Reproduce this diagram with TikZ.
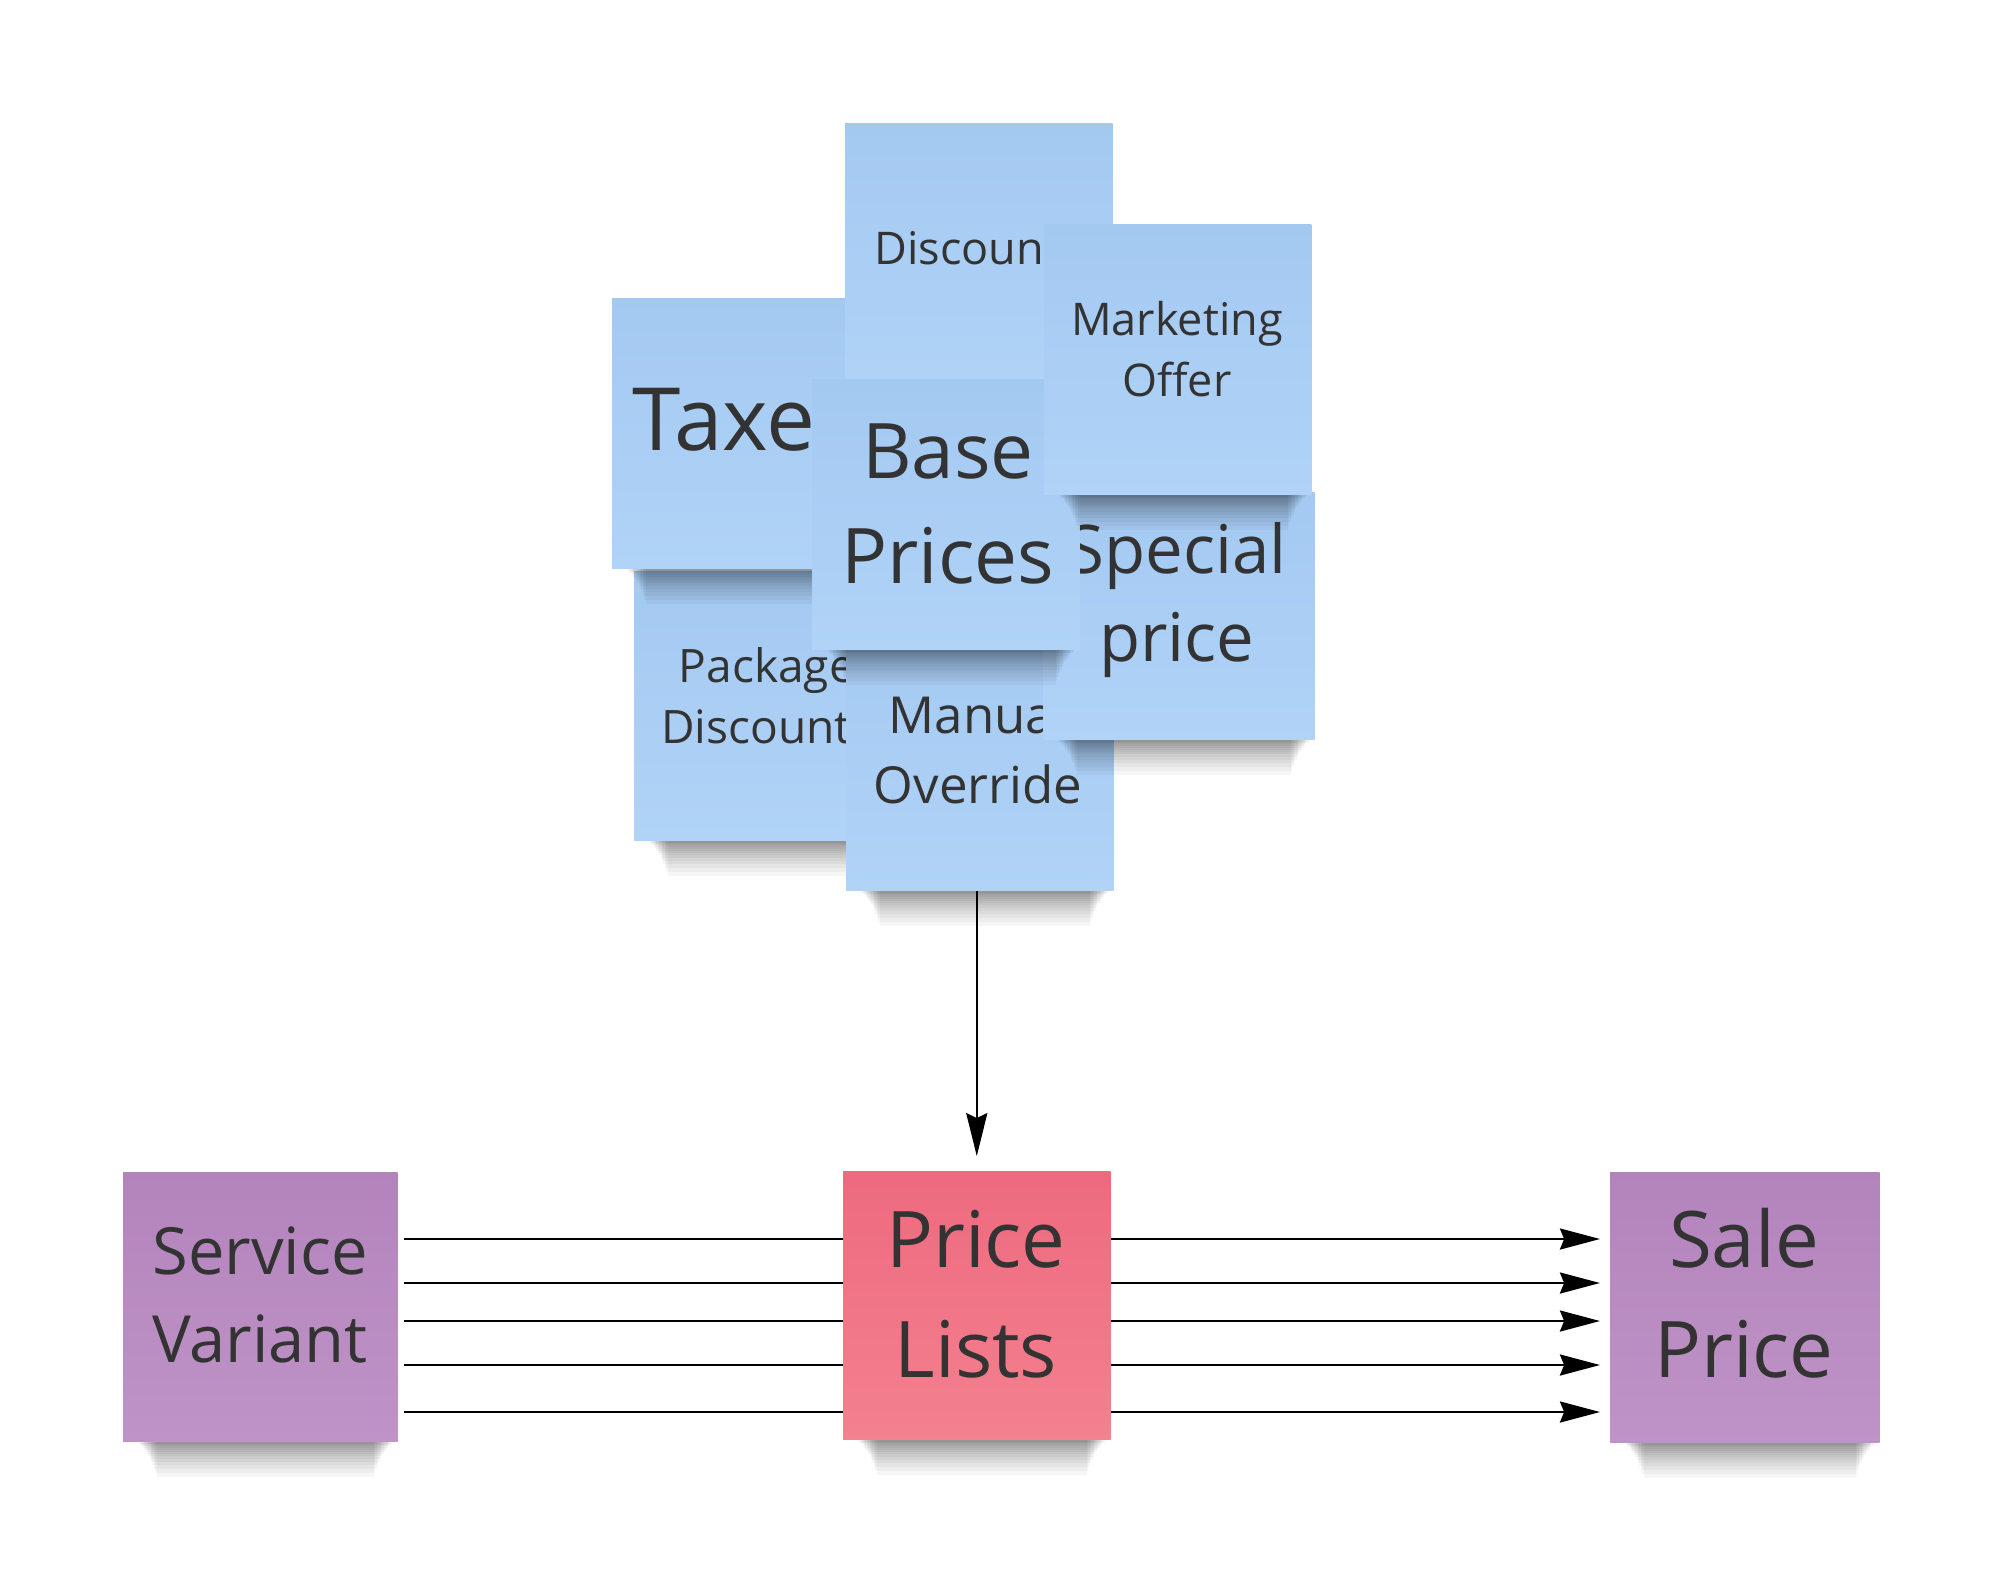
\documentclass[tikz,border=0pt]{standalone}
\usepackage{fontspec}
\setmainfont{Open Sans}
\usetikzlibrary{arrows.meta,calc}
\definecolor{txt}{HTML}{333333}
\definecolor{blueT}{HTML}{A4C9F1}
\definecolor{blueB}{HTML}{B0D3F7}
\definecolor{purT}{HTML}{B384BC}
\definecolor{purB}{HTML}{BF93C7}
\definecolor{redT}{HTML}{EE6A7E}
\definecolor{redB}{HTML}{F3818F}
\newcommand\stickyshadow[1]{%
  \foreach \sdy [count=\sdi] in {2,3,4,6,8,10,12,14,17,20,23,27,31,35}{%
    \fill[black,opacity=0.036] ($(#1.south west)+(14+1.4*\sdi,-4)$) rectangle ($(#1.south east)+(-4-1.4*\sdi,\sdy)$);
  }}
\newcommand\stickynote[7]{%
  \node[anchor=north west,inner sep=0,minimum width=#4,minimum height=#5] (#1) at (#2,#3) {};
  \stickyshadow{#1}
  \shade[top color=#6,bottom color=#7] (#1.north west) rectangle (#1.south east);
}
\newcommand\twol[4]{\fontsize{#1}{#2}\selectfont\begin{tabular}[t]{@{}c@{}}#3\\#4\end{tabular}}
\begin{document}
\begin{tikzpicture}[x=0.01cm,y=-0.01cm,
  lbl/.style={anchor=base,inner sep=0,text=txt},
  harr/.style={line width=0.6pt,draw=black,-{Stealth[length=11.4pt,width=6pt,inset=1.2pt]}},
  varr/.style={line width=0.6pt,draw=black,-{Stealth[length=12.2pt,width=6pt,inset=1.4pt]}}]
\fill[white] (0,0) rectangle (2000,1578);
\useasboundingbox (0,0) rectangle (2000,1578);

% blue cluster, bottom to top
\stickynote{pk}{634}{571}{2.66cm}{2.68cm}{blueT}{blueB}
\node[lbl] (tpk) at (767,682) {\twol{13.1pt}{17.4pt}{Package}{Discount\phantom{s}}};

\stickynote{tx}{612}{298}{2.66cm}{2.69cm}{blueT}{blueB}
\node[lbl] (ttx) at (745,450) {\fontsize{24.8pt}{30pt}\selectfont Taxe\phantom{s}};

\stickynote{di}{845}{123}{2.66cm}{2.68cm}{blueT}{blueB}
\node[lbl] (tdi) at (978,264) {\fontsize{12.8pt}{17.6pt}\selectfont Discoun\phantom{ts}};

\stickynote{mo}{846}{620}{2.66cm}{2.69cm}{blueT}{blueB}
\node[lbl] (tmo) at (978,733) {\twol{14.5pt}{19.9pt}{Manua\phantom{l}}{Override}};

\stickynote{spc}{1043}{492}{2.70cm}{2.46cm}{blueT}{blueB}
\node[lbl] (tspc) at (1177,573) {\twol{19.1pt}{25.3pt}{Special}{price}};

\stickynote{bp}{812}{379}{2.66cm}{2.69cm}{blueT}{blueB}
\node[lbl] (tbp) at (948,478) {\twol{21.8pt}{29.9pt}{Base}{Prices}};

\stickynote{mk}{1044}{224}{2.66cm}{2.69cm}{blueT}{blueB}
\node[lbl] (tmk) at (1177,335) {\twol{12.8pt}{17.6pt}{Marketing}{Offer}};

% bottom row
\stickynote{sv}{123}{1172}{2.73cm}{2.68cm}{purT}{purB}
\node[lbl] (tsv) at (260,1274) {\twol{18.5pt}{25.3pt}{Service}{Variant}};

\stickynote{sp}{1610}{1172}{2.68cm}{2.69cm}{purT}{purB}
\node[lbl] (tsp) at (1744,1267) {\twol{22.2pt}{31.3pt}{Sale}{Price}};

\foreach \yy in {1239,1283,1321,1365,1412}
  \draw[harr] ([xshift=0.06cm]sv.east |- 0,\yy) -- ([xshift=-0.1cm]sp.west |- 0,\yy);

\stickynote{pl}{843}{1171}{2.66cm}{2.67cm}{redT}{redB}
\node[lbl] (tpl) at (976,1267) {\twol{22.2pt}{31.3pt}{Price}{Lists}};

\draw[varr] ([xshift=-0.03cm]mo.south) -- ([xshift=-0.03cm,yshift=0.15cm]mo.south |- pl.north);
\end{tikzpicture}
\end{document}
